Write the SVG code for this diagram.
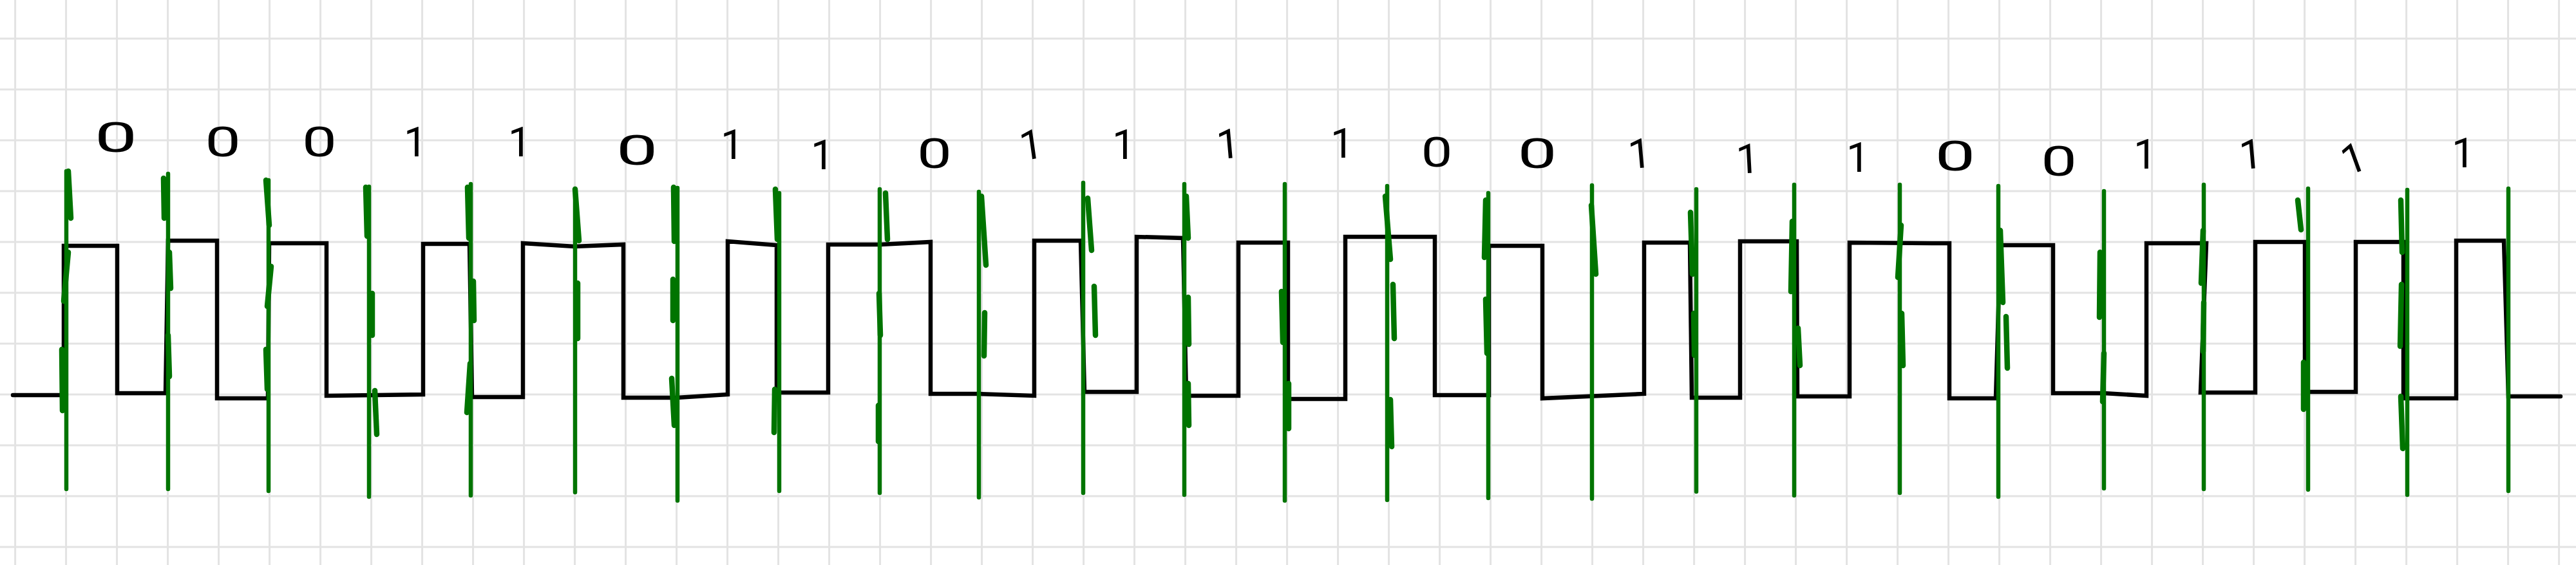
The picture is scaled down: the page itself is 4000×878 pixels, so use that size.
<svg xmlns="http://www.w3.org/2000/svg" width="4000" height="878" viewBox="0 0 4000 878">
<defs>
<style>
.grid line{stroke:#e3e3e3;stroke-width:3}
.wave{fill:none;stroke:#000;stroke-width:6.5;stroke-linejoin:miter;stroke-linecap:round}
.clk line{stroke:#007400;stroke-width:6.5;stroke-linecap:round}
.clk .s{stroke-width:8.5}
</style>
</defs>
<rect width="4000" height="878" fill="#fff"/>
<g id="grid" class="grid">
<line x1="23.6" y1="0" x2="23.6" y2="878"/><line x1="102.6" y1="0" x2="102.6" y2="878"/><line x1="181.6" y1="0" x2="181.6" y2="878"/><line x1="260.6" y1="0" x2="260.6" y2="878"/><line x1="339.6" y1="0" x2="339.6" y2="878"/><line x1="418.6" y1="0" x2="418.6" y2="878"/><line x1="497.6" y1="0" x2="497.6" y2="878"/><line x1="576.6" y1="0" x2="576.6" y2="878"/><line x1="655.6" y1="0" x2="655.6" y2="878"/><line x1="734.6" y1="0" x2="734.6" y2="878"/>
<line x1="813.6" y1="0" x2="813.6" y2="878"/><line x1="892.6" y1="0" x2="892.6" y2="878"/><line x1="971.6" y1="0" x2="971.6" y2="878"/><line x1="1050.6" y1="0" x2="1050.6" y2="878"/><line x1="1129.6" y1="0" x2="1129.6" y2="878"/><line x1="1208.6" y1="0" x2="1208.6" y2="878"/><line x1="1287.6" y1="0" x2="1287.6" y2="878"/><line x1="1366.6" y1="0" x2="1366.6" y2="878"/><line x1="1445.6" y1="0" x2="1445.6" y2="878"/><line x1="1524.6" y1="0" x2="1524.6" y2="878"/>
<line x1="1603.6" y1="0" x2="1603.6" y2="878"/><line x1="1682.6" y1="0" x2="1682.6" y2="878"/><line x1="1761.6" y1="0" x2="1761.6" y2="878"/><line x1="1840.6" y1="0" x2="1840.6" y2="878"/><line x1="1919.6" y1="0" x2="1919.6" y2="878"/><line x1="1998.6" y1="0" x2="1998.6" y2="878"/><line x1="2077.6" y1="0" x2="2077.6" y2="878"/><line x1="2156.6" y1="0" x2="2156.6" y2="878"/><line x1="2235.6" y1="0" x2="2235.6" y2="878"/><line x1="2314.6" y1="0" x2="2314.6" y2="878"/>
<line x1="2393.6" y1="0" x2="2393.6" y2="878"/><line x1="2472.6" y1="0" x2="2472.6" y2="878"/><line x1="2551.6" y1="0" x2="2551.6" y2="878"/><line x1="2630.6" y1="0" x2="2630.6" y2="878"/><line x1="2709.6" y1="0" x2="2709.6" y2="878"/><line x1="2788.6" y1="0" x2="2788.6" y2="878"/><line x1="2867.6" y1="0" x2="2867.6" y2="878"/><line x1="2946.6" y1="0" x2="2946.6" y2="878"/><line x1="3025.6" y1="0" x2="3025.6" y2="878"/><line x1="3104.6" y1="0" x2="3104.6" y2="878"/>
<line x1="3183.6" y1="0" x2="3183.6" y2="878"/><line x1="3262.6" y1="0" x2="3262.6" y2="878"/><line x1="3341.6" y1="0" x2="3341.6" y2="878"/><line x1="3420.6" y1="0" x2="3420.6" y2="878"/><line x1="3499.6" y1="0" x2="3499.6" y2="878"/><line x1="3578.6" y1="0" x2="3578.6" y2="878"/><line x1="3657.6" y1="0" x2="3657.6" y2="878"/><line x1="3736.6" y1="0" x2="3736.6" y2="878"/><line x1="3815.6" y1="0" x2="3815.6" y2="878"/><line x1="3894.6" y1="0" x2="3894.6" y2="878"/><line x1="3973.6" y1="0" x2="3973.6" y2="878"/>
<line x1="0" y1="60" x2="4000" y2="60"/><line x1="0" y1="139" x2="4000" y2="139"/><line x1="0" y1="218" x2="4000" y2="218"/><line x1="0" y1="297" x2="4000" y2="297"/><line x1="0" y1="376" x2="4000" y2="376"/><line x1="0" y1="455" x2="4000" y2="455"/><line x1="0" y1="534" x2="4000" y2="534"/><line x1="0" y1="613" x2="4000" y2="613"/><line x1="0" y1="692" x2="4000" y2="692"/><line x1="0" y1="771" x2="4000" y2="771"/><line x1="0" y1="850" x2="4000" y2="850"/>
</g>
<g id="signal">
<path class="wave" d="M20,614 H99 V382 H182 V611 H257 L261,374 H337 V619 H416 L418,378 H507 V615 L657,613 V379 H729 L733,617 H812 V378 L892,383 L968,380 V618 L1051,618 L1130,613 V375 L1206,381 V610 H1286 V380 H1367 L1445,376 V612 H1520 L1606,615 V374 H1678 L1684,609 H1765 V368 L1837,370 L1842,615 H1923 V377 H2000 V620 H2089 V368 H2228 V614 H2312 V382 H2395 V619 L2553,612 V377 H2624 L2627,618 H2702 V375 H2790 L2791,616 H2872 V377 L3000,378 H3027 V619 H3099 L3106,381 H3188 V611 H3267 L3333,615 V378 H3426 L3417,610 H3502 V376 H3579 V609 H3658 V376 H3732 V619 H3814 V374 H3888 L3895,616 H3976"/>
</g>
<g id="clock" class="clk">
<line x1="103" y1="266" x2="103" y2="760"/><line x1="261" y1="270" x2="261" y2="760"/><line x1="417" y1="280" x2="417" y2="763"/><line x1="573" y1="290" x2="573" y2="772"/><line x1="731" y1="286" x2="731" y2="770"/><line x1="893" y1="293" x2="893" y2="765"/><line x1="1052" y1="292" x2="1052" y2="778"/><line x1="1210" y1="300" x2="1210" y2="763"/><line x1="1366" y1="294" x2="1366" y2="766"/><line x1="1520" y1="298" x2="1520" y2="773"/><line x1="1682" y1="284" x2="1682" y2="766"/><line x1="1839" y1="286" x2="1839" y2="769"/><line x1="1995" y1="286" x2="1995" y2="778"/><line x1="2154" y1="289" x2="2154" y2="777"/><line x1="2311" y1="300" x2="2311" y2="774"/><line x1="2472" y1="288" x2="2472" y2="775"/><line x1="2634" y1="294" x2="2634" y2="764"/><line x1="2786" y1="287" x2="2786" y2="770"/><line x1="2950" y1="287" x2="2950" y2="766"/><line x1="3103" y1="289" x2="3103" y2="772"/><line x1="3267" y1="297" x2="3267" y2="759"/><line x1="3422" y1="287" x2="3422" y2="760"/><line x1="3584" y1="293" x2="3584" y2="761"/><line x1="3738" y1="295" x2="3738" y2="769"/><line x1="3895" y1="293" x2="3895" y2="763"/>
<line class="s" x1="106" y1="266" x2="110" y2="339"/><line class="s" x1="106" y1="392" x2="99" y2="468"/><line class="s" x1="96" y1="543" x2="97" y2="638"/>
<line class="s" x1="254" y1="277" x2="255" y2="339"/><line class="s" x1="263" y1="392" x2="265" y2="448"/><line class="s" x1="261" y1="521" x2="263" y2="585"/>
<line class="s" x1="413" y1="280" x2="418" y2="350"/><line class="s" x1="421" y1="414" x2="415" y2="476"/><line class="s" x1="413" y1="543" x2="415" y2="605"/>
<line class="s" x1="568" y1="291" x2="570" y2="367"/><line class="s" x1="578" y1="456" x2="578" y2="521"/><line class="s" x1="582" y1="607" x2="585" y2="675"/>
<line class="s" x1="726" y1="291" x2="728" y2="370"/><line class="s" x1="735" y1="437" x2="736" y2="498"/><line class="s" x1="730" y1="565" x2="725" y2="641"/>
<line class="s" x1="893" y1="294" x2="899" y2="374"/><line class="s" x1="897" y1="440" x2="897" y2="526"/>
<line class="s" x1="1046" y1="291" x2="1047" y2="375"/><line class="s" x1="1045" y1="434" x2="1045" y2="498"/><line class="s" x1="1043" y1="588" x2="1047" y2="661"/>
<line class="s" x1="1204" y1="294" x2="1207" y2="372"/><line class="s" x1="1203" y1="605" x2="1202" y2="672"/>
<line class="s" x1="1375" y1="300" x2="1378" y2="372"/><line class="s" x1="1365" y1="456" x2="1367" y2="521"/><line class="s" x1="1364" y1="630" x2="1364" y2="686"/>
<line class="s" x1="1524" y1="305" x2="1531" y2="412"/><line class="s" x1="1529" y1="486" x2="1528" y2="553"/>
<line class="s" x1="1689" y1="308" x2="1695" y2="389"/><line class="s" x1="1699" y1="445" x2="1701" y2="521"/>
<line class="s" x1="1842" y1="305" x2="1845" y2="370"/><line class="s" x1="1845" y1="462" x2="1846" y2="535"/><line class="s" x1="1845" y1="596" x2="1846" y2="661"/>
<line class="s" x1="1990" y1="453" x2="1992" y2="532"/><line class="s" x1="2001" y1="596" x2="2001" y2="666"/>
<line class="s" x1="2151" y1="305" x2="2159" y2="403"/><line class="s" x1="2163" y1="442" x2="2165" y2="526"/><line class="s" x1="2159" y1="621" x2="2161" y2="694"/>
<line class="s" x1="2307" y1="311" x2="2305" y2="400"/><line class="s" x1="2307" y1="465" x2="2309" y2="549"/>
<line class="s" x1="2471" y1="319" x2="2478" y2="426"/>
<line class="s" x1="2625" y1="330" x2="2628" y2="426"/><line class="s" x1="2630" y1="487" x2="2631" y2="552"/>
<line class="s" x1="2783" y1="344" x2="2781" y2="453"/><line class="s" x1="2792" y1="510" x2="2795" y2="568"/>
<line class="s" x1="2952" y1="350" x2="2947" y2="431"/><line class="s" x1="2953" y1="487" x2="2955" y2="568"/>
<line class="s" x1="3106" y1="358" x2="3110" y2="470"/><line class="s" x1="3115" y1="492" x2="3117" y2="572"/>
<line class="s" x1="3261" y1="392" x2="3260" y2="493"/><line class="s" x1="3267" y1="549" x2="3265" y2="624"/>
<line class="s" x1="3421" y1="358" x2="3418" y2="440"/><line class="s" x1="3422" y1="470" x2="3421" y2="546"/>
<line class="s" x1="3568" y1="311" x2="3573" y2="357"/><line class="s" x1="3577" y1="563" x2="3577" y2="636"/>
<line class="s" x1="3728" y1="311" x2="3730" y2="392"/><line class="s" x1="3729" y1="442" x2="3727" y2="538"/><line class="s" x1="3728" y1="616" x2="3731" y2="697"/>
</g>
<g id="bits" font-family="Roboto, 'Open Sans', sans-serif" font-size="64" fill="#000" text-anchor="middle">
<text transform="translate(180,236) scale(1.85,1)">0</text>
<text transform="translate(346,243) scale(1.55,1)">0</text>
<text transform="translate(496,243) scale(1.5,1)">0</text>
<text x="645" y="243">1</text>
<text x="807" y="243">1</text>
<text transform="translate(989,256) scale(1.8,1)">0</text>
<text x="1137" y="247">1</text>
<text x="1277" y="263">1</text>
<text transform="translate(1451,261) scale(1.5,1)">0</text>
<text transform="translate(1604,247) rotate(-8)">1</text>
<text x="1745" y="247">1</text>
<text transform="translate(1909,246) rotate(-5)">1</text>
<text x="2084" y="245">1</text>
<text transform="translate(2231,259) scale(1.35,1)">0</text>
<text transform="translate(2387,261) scale(1.7,1)">0</text>
<text transform="translate(2548,261) rotate(-5)">1</text>
<text transform="translate(2715,269) rotate(-3)">1</text>
<text x="2885" y="267">1</text>
<text transform="translate(3036,265) scale(1.75,1)">0</text>
<text transform="translate(3197,273) scale(1.55,1)">0</text>
<text x="3331" y="262">1</text>
<text transform="translate(3497,262) rotate(-5)">1</text>
<text transform="translate(3662,267) rotate(-20)">1</text>
<text x="3825" y="260">1</text>
</g>
</svg>
